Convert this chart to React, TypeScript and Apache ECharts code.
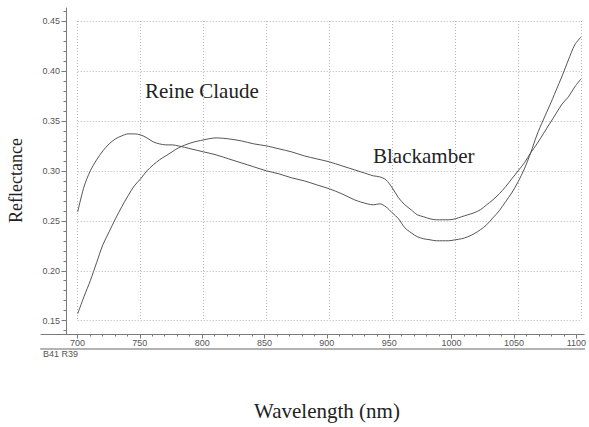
import React, { useEffect, useRef } from "react";
import * as echarts from "echarts";

const wavelengths = [700,705,710,715,720,725,730,735,740,745,750,755,760,765,770,775,780,790,800,810,820,830,840,850,860,870,880,890,900,910,920,930,935,940,945,950,955,960,965,970,975,980,985,990,995,1000,1005,1010,1015,1020,1025,1030,1035,1040,1045,1050,1055,1060,1065,1070,1075,1080,1085,1090,1095,1100];

const reineClaude = [0.259,0.284,0.300,0.311,0.320,0.327,0.332,0.335,0.337,0.337,0.336,0.333,0.329,0.327,0.326,0.326,0.325,0.322,0.319,0.316,0.312,0.308,0.304,0.300,0.297,0.293,0.290,0.286,0.282,0.277,0.271,0.267,0.266,0.267,0.264,0.258,0.252,0.243,0.238,0.234,0.232,0.231,0.230,0.230,0.230,0.231,0.232,0.234,0.237,0.241,0.246,0.253,0.260,0.269,0.278,0.289,0.302,0.318,0.336,0.351,0.365,0.380,0.395,0.411,0.426,0.434];

const blackamber = [0.157,0.174,0.190,0.208,0.226,0.239,0.252,0.264,0.275,0.285,0.292,0.300,0.306,0.311,0.315,0.319,0.323,0.328,0.331,0.333,0.332,0.330,0.327,0.325,0.322,0.319,0.315,0.312,0.309,0.305,0.301,0.297,0.295,0.294,0.291,0.283,0.273,0.266,0.261,0.256,0.254,0.252,0.251,0.251,0.251,0.252,0.254,0.256,0.258,0.261,0.266,0.271,0.277,0.284,0.292,0.300,0.308,0.318,0.327,0.337,0.347,0.357,0.367,0.374,0.384,0.392];

const xMajorTicks = [700,750,800,850,900,950,1000,1050,1100];
const xMinorTicks = [710,720,730,740,760,770,780,790,810,820,830,840,860,870,880,890,910,920,930,940,960,970,980,990,1010,1020,1030,1040,1060,1070,1080,1090];
const yMajorTicks = [0.15,0.20,0.25,0.30,0.35,0.40,0.45];
const yMinorTicks = [0.14,0.16,0.17,0.18,0.19,0.21,0.22,0.23,0.24,0.26,0.27,0.28,0.29,0.31,0.32,0.33,0.34,0.36,0.37,0.38,0.39,0.41,0.42,0.43,0.44,0.46];

const seriesNames = ["Reine Claude", "Blackamber"];
const axisTitles = { x: "Wavelength (nm)", y: "Reflectance" };
const footnote = "B41 R39";

export default function App() {
  const ref = useRef<HTMLDivElement>(null);
  useEffect(() => {
    if (!ref.current) return;
    const chart = echarts.init(ref.current, null, { renderer: "svg" });
    const axisGray = "#7a7a7a";
    const labelStyle = { fontFamily: "Liberation Sans, Arial, sans-serif", fontSize: 9, color: "#555" };
    const serif = "Liberation Serif, Times New Roman, serif";
    chart.setOption({
      animation: false,
      backgroundColor: "#fff",
      grid: [
        { left: 77.7, top: 21, right: 8, bottom: 106.3, containLabel: false },
        { left: 41, top: 8, right: 0, bottom: 92.5, containLabel: false },
      ],
      xAxis: [
        {
          type: "value", gridIndex: 0, min: 700, max: 1100, interval: 50,
          axisLine: { show: false }, axisTick: { show: false }, axisLabel: { show: false },
          splitLine: { show: true, lineStyle: { color: "#b5b5b5", width: 1, type: [1, 2] } },
        },
        {
          type: "value", gridIndex: 1, min: 670.8, max: 1106.3, position: "bottom",
          axisLine: { show: true, lineStyle: { color: axisGray, width: 1 } },
          axisTick: { show: true, length: 4, customValues: xMajorTicks, lineStyle: { color: axisGray } },
          axisLabel: { show: true, customValues: xMajorTicks, margin: 4, formatter: (v: number) => String(v), ...labelStyle },
          splitLine: { show: false },
        },
        {
          type: "value", gridIndex: 1, min: 670.8, max: 1106.3, position: "bottom",
          axisLine: { show: false },
          axisTick: { show: true, length: 2, customValues: xMinorTicks, lineStyle: { color: axisGray } },
          axisLabel: { show: false },
          splitLine: { show: false },
        },
        {
          type: "value", gridIndex: 1, min: 670.8, max: 1106.3, position: "bottom", offset: 14.5,
          axisLine: { show: true, lineStyle: { color: "#b3b3b3", width: 2 } },
          axisTick: { show: false }, axisLabel: { show: false }, splitLine: { show: false },
        },
      ],
      yAxis: [
        {
          type: "value", gridIndex: 0, min: 0.15, max: 0.45, interval: 0.05,
          axisLine: { show: false }, axisTick: { show: false }, axisLabel: { show: false },
          splitLine: { show: true, lineStyle: { color: "#b5b5b5", width: 1, type: [1, 2] } },
        },
        {
          type: "value", gridIndex: 1, min: 0.1362, max: 0.463, position: "left", offset: -25.5,
          axisLine: { show: true, lineStyle: { color: axisGray, width: 1 } },
          axisTick: { show: true, length: 5, customValues: yMajorTicks, lineStyle: { color: axisGray } },
          axisLabel: { show: true, customValues: yMajorTicks, margin: 6.5, formatter: (v: number) => v.toFixed(2), ...labelStyle },
          splitLine: { show: false },
        },
        {
          type: "value", gridIndex: 1, min: 0.1362, max: 0.463, position: "left", offset: -25.5,
          axisLine: { show: false },
          axisTick: { show: true, length: 3, customValues: yMinorTicks, lineStyle: { color: axisGray } },
          axisLabel: { show: false },
          splitLine: { show: false },
        },
      ],
      series: [
        {
          name: seriesNames[0], type: "line", xAxisIndex: 0, yAxisIndex: 0,
          data: wavelengths.map((w, i) => [w, reineClaude[i]]),
          showSymbol: false, smooth: 0.3, lineStyle: { color: "#555", width: 1 },
        },
        {
          name: seriesNames[1], type: "line", xAxisIndex: 0, yAxisIndex: 0,
          data: wavelengths.map((w, i) => [w, blackamber[i]]),
          showSymbol: false, smooth: 0.3, lineStyle: { color: "#555", width: 1 },
        },
      ],
      graphic: [
        { type: "text", x: 145, y: 91, style: { text: seriesNames[0], font: `21px ${serif}`, fill: "#222", textAlign: "left", textVerticalAlign: "middle" } },
        { type: "text", x: 373, y: 156, style: { text: seriesNames[1], font: `21px ${serif}`, fill: "#222", textAlign: "left", textVerticalAlign: "middle" } },
        { type: "text", x: 15.5, y: 180.5, rotation: Math.PI / 2, style: { text: axisTitles.y, font: `18px ${serif}`, fill: "#222", textAlign: "center", textVerticalAlign: "middle" } },
        { type: "text", x: 327, y: 411, style: { text: axisTitles.x, font: `21px ${serif}`, fill: "#222", textAlign: "center", textVerticalAlign: "middle" } },
        { type: "text", x: 43, y: 354, style: { text: footnote, font: "9px Liberation Sans, Arial, sans-serif", fill: "#555", textAlign: "left", textVerticalAlign: "middle" } },
      ],
    });
    return () => chart.dispose();
  }, []);
  return <div ref={ref} style={{ position: "fixed", left: 0, top: 0, width: 589, height: 427 }} />;
}
